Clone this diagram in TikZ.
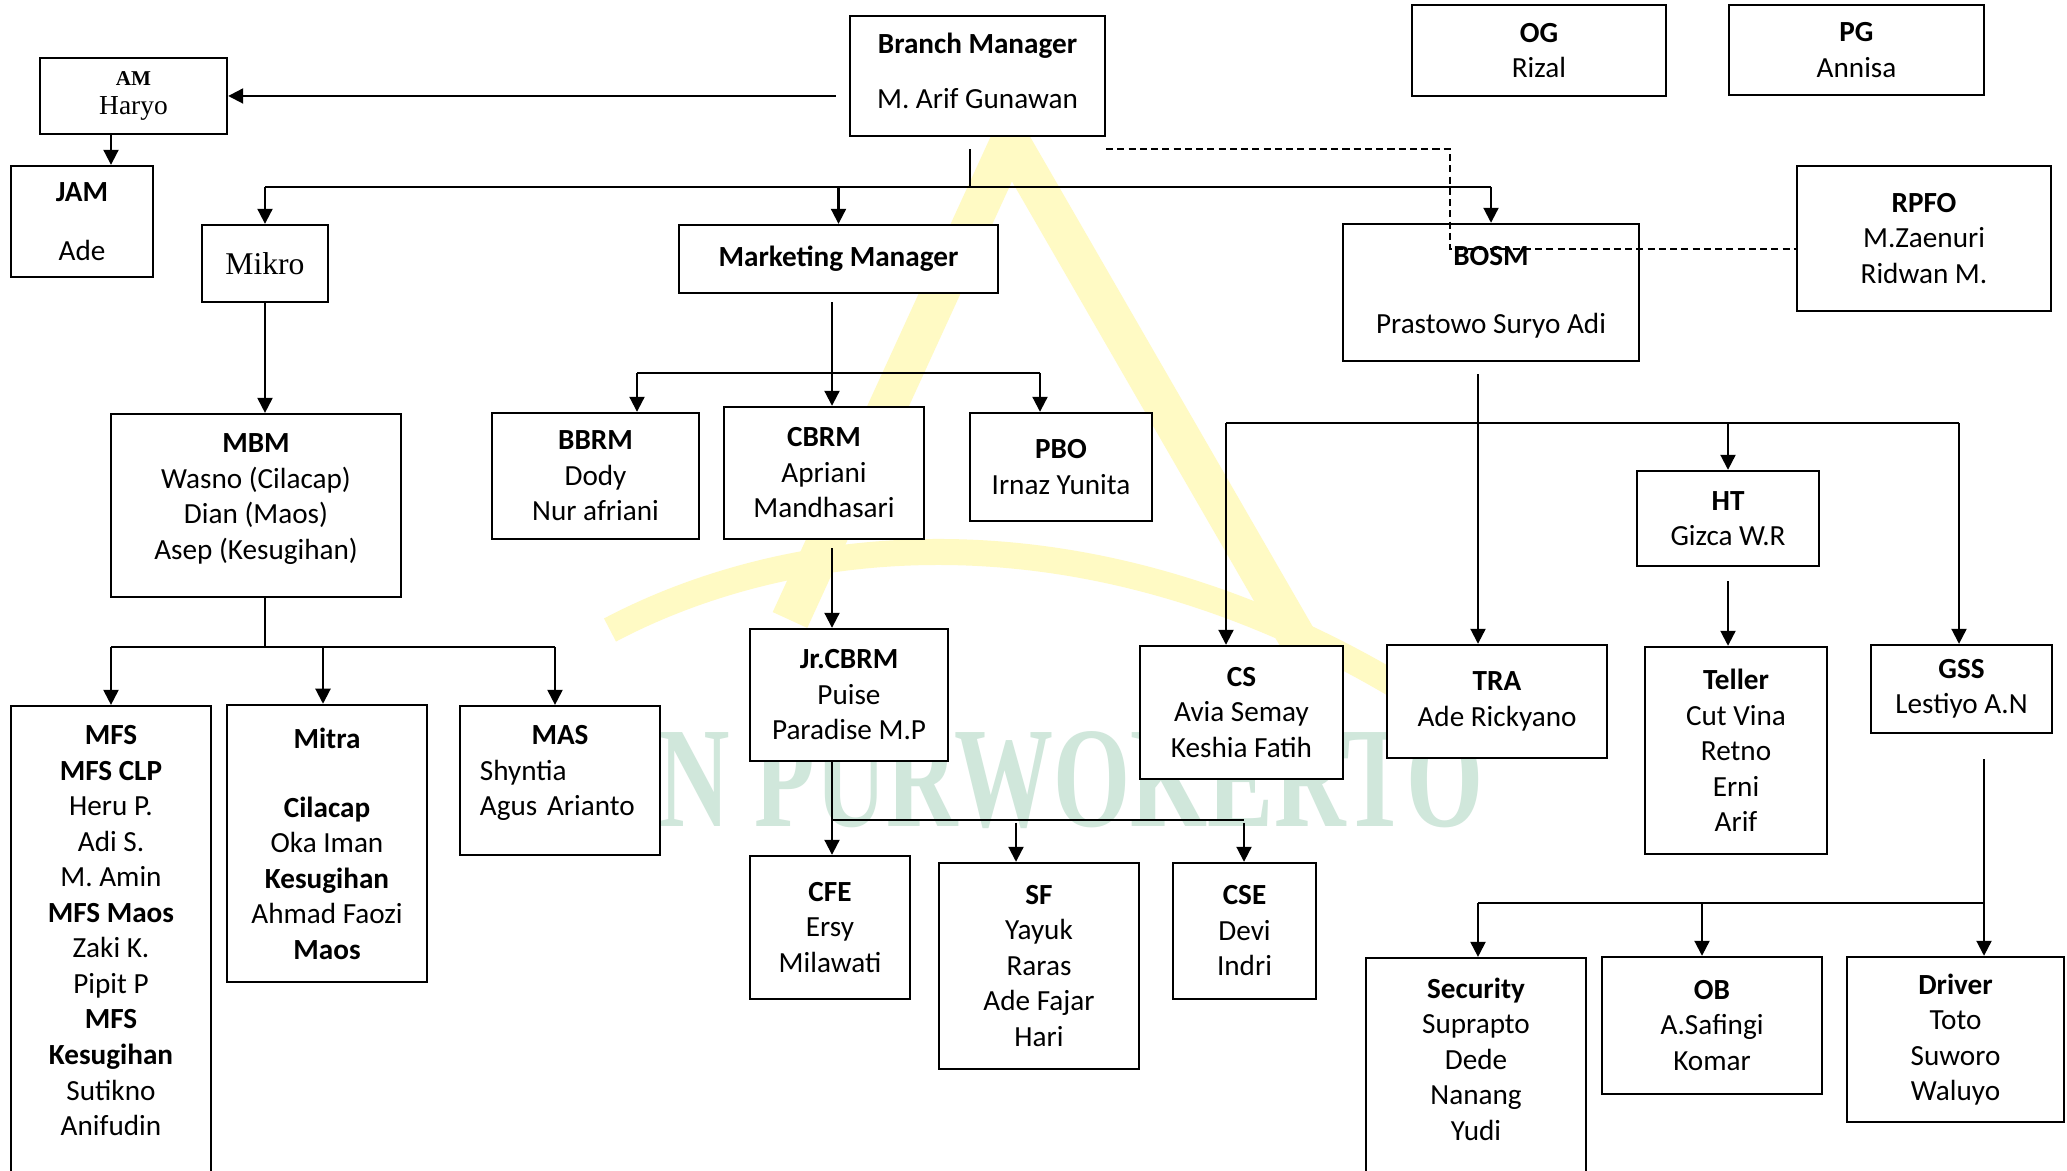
\documentclass[tikz,border=0pt]{standalone}
\usepackage{fontspec}
\setmainfont{Carlito}
\newfontfamily\tnr{Liberation Serif}
\newfontfamily\wmfont[FakeStretch=0.69]{Liberation Serif}
\usetikzlibrary{arrows.meta, calc}
\definecolor{wmyellow}{HTML}{FFFAC4}
\definecolor{wmgreen}{HTML}{D0E7DB}
\newcommand{\orgfont}{\fontsize{8.3}{10.1}\selectfont}

\begin{document}
\begin{tikzpicture}[x=0.01cm, y=-0.01cm,
  orgbox/.style={draw, line width=0.6pt, fill=white, align=center, font=\orgfont, inner sep=1pt},
  serifbox/.style={orgbox, font=\tnr\fontsize{7.8}{8.2}\selectfont},
  toptext/.style={align=center, font=\orgfont, anchor=north, yshift=-0.2cm, inner sep=0pt},
  arr/.style={-{Triangle[length=4.3pt, width=4.2pt]}, line width=0.8pt},
  bus/.style={line width=0.6pt},
  stub/.style={line width=0.45pt},
  dline/.style={dashed, dash pattern=on 2pt off 1.2pt, line width=0.6pt},
]
\useasboundingbox (0,0) rectangle (2067,1171);
\fill[white] (0,0) rectangle (2067,1171);

% watermark
\draw[wmyellow, line width=0.38cm] (790,620) -- (1010,140) -- (1310,660);
\draw[wmyellow, line width=0.26cm] (610,630) .. controls (800,530) and (1100,500) .. (1420,700);
\node[font=\wmfont\bfseries\fontsize{40.8}{41}\selectfont, text=wmgreen, anchor=east, inner sep=0pt] (wmark) at (1484,780) {IAIN PURWOKERTO};

% top level
\node[orgbox, minimum width=2.55cm, minimum height=1.2cm] (bm) at (977.5,76) {\textbf{Branch Manager}\\[5.3pt]M. Arif Gunawan\\[-7.1pt]};
\node[serifbox, minimum width=1.87cm, minimum height=0.76cm] (am) at (133.5,96) {{\fontsize{6}{7}\selectfont\bfseries AM}\\Haryo};
\node[orgbox, minimum width=1.42cm, minimum height=1.11cm] (jam) at (82,221.5) {\textbf{JAM}\\[6.7pt]Ade};
\node[orgbox, minimum width=2.54cm, minimum height=0.91cm] (og) at (1539,50.5) {\textbf{OG}\\Rizal};
\node[orgbox, minimum width=2.55cm, minimum height=0.9cm] (pg) at (1856.5,50) {\textbf{PG}\\Annisa};

% second level
\node[serifbox, font=\tnr\fontsize{9}{10}\selectfont, minimum width=1.26cm, minimum height=0.77cm] (mikro) at (265,263.5) {Mikro};
\node[orgbox, minimum width=3.19cm, minimum height=0.68cm] (mm) at (838.5,259) {\textbf{Marketing Manager}};
\node[orgbox, minimum width=2.96cm, minimum height=1.37cm] (bosm) at (1491,292.5) {\textbf{BOSM}\\[9.3pt]Prastowo Suryo Adi};
\node[orgbox, minimum width=2.54cm, minimum height=1.45cm] (rpfo) at (1924,238.5) {\textbf{RPFO}\\M.Zaenuri\\Ridwan M.};

% third level
\node[orgbox, anchor=north, minimum width=2.9cm, minimum height=1.83cm,
  label={[toptext]north:{\textbf{MBM}\\Wasno (Cilacap)\\Dian (Maos)\\Asep (Kesugihan)}}] (mbm) at (256,413) {};
\node[orgbox, minimum width=2.07cm, minimum height=1.26cm] (bbrm) at (595.5,476) {\textbf{BBRM}\\Dody\\Nur afriani};
\node[orgbox, minimum width=2cm, minimum height=1.32cm] (cbrm) at (824,473) {\textbf{CBRM}\\Apriani\\Mandhasari};
\node[orgbox, minimum width=1.82cm, minimum height=1.08cm] (pbo) at (1061,467) {\textbf{PBO}\\Irnaz Yunita};
\node[orgbox, minimum width=1.82cm, minimum height=0.95cm] (ht) at (1728,518.5) {\textbf{HT}\\Gizca W.R};

% fourth level
\node[orgbox, minimum width=1.98cm, minimum height=1.32cm] (jrcbrm) at (849,695) {\textbf{Jr.CBRM}\\Puise\\Paradise M.P};
\node[orgbox, minimum width=2.03cm, minimum height=1.33cm] (cs) at (1241.5,712.5) {\textbf{CS}\\Avia Semay\\Keshia Fatih};
\node[orgbox, minimum width=2.2cm, minimum height=1.13cm] (tra) at (1497,701.5) {\textbf{TRA}\\Ade Rickyano};
\node[orgbox, minimum width=1.82cm, minimum height=2.07cm] (teller) at (1736,750.5) {\textbf{Teller}\\Cut Vina\\Retno\\Erni\\Arif};
\node[orgbox, minimum width=1.81cm, minimum height=0.88cm] (gss) at (1961.5,689) {\textbf{GSS}\\Lestiyo A.N};

\node[orgbox, anchor=north, minimum width=2cm, minimum height=5cm,
  label={[toptext]north:{\textbf{MFS}\\\textbf{MFS CLP}\\Heru P.\\Adi S.\\M. Amin\\\textbf{MFS Maos}\\Zaki K.\\Pipit P\\\textbf{MFS}\\\textbf{Kesugihan}\\Sutikno\\Anifudin}}] (mfs) at (111,705) {};
\node[orgbox, minimum width=2cm, minimum height=2.77cm] (mitra) at (327,843.5) {\textbf{Mitra}\\[9.5pt]\textbf{Cilacap}\\Oka Iman\\\textbf{Kesugihan}\\Ahmad Faozi\\\textbf{Maos}};
\node[orgbox, anchor=north, minimum width=2cm, minimum height=1.49cm,
  label={[toptext, text width=1.6cm, align=left]north:{\makebox[1.6cm]{\textbf{MAS}}\\Shyntia\\Agus Arianto}}] (mas) at (560,705) {};

% fifth level
\node[orgbox, minimum width=1.6cm, minimum height=1.43cm] (cfe) at (830,927.5) {\textbf{CFE}\\Ersy\\Milawati};
\node[orgbox, minimum width=2cm, minimum height=2.06cm] (sf) at (1039,966) {\textbf{SF}\\Yayuk\\Raras\\Ade Fajar\\Hari};
\node[orgbox, minimum width=1.43cm, minimum height=1.36cm] (cse) at (1244.5,931) {\textbf{CSE}\\Devi\\Indri};
\node[orgbox, anchor=north, minimum width=2.2cm, minimum height=2.6cm,
  label={[toptext]north:{\textbf{Security}\\Suprapto\\Dede\\Nanang\\Yudi}}] (security) at (1476,957) {};
\node[orgbox, minimum width=2.2cm, minimum height=1.37cm] (ob) at (1712,1025.5) {\textbf{OB}\\A.Safingi\\Komar};
\node[orgbox, minimum width=2.17cm, minimum height=1.65cm] (driver) at (1955.5,1039.5) {\textbf{Driver}\\Toto\\Suworo\\Waluyo};

% bus points
\coordinate (bmbus) at (970,187);
\coordinate (dk) at (1450,249);
\coordinate (mmbus) at (832,373);
\coordinate (mmbl) at (637,373);
\coordinate (mmbr) at (1040,373);
\coordinate (jrbl) at (832,820);
\coordinate (jrbm) at (1016,820);
\coordinate (jrbr) at (1244,820);
\coordinate (mbmbus) at (265,647);
\coordinate (mbml) at (111,647);
\coordinate (mbmm) at (323,647);
\coordinate (mbmr) at (555,647);
\coordinate (bsv) at (1478,423);
\coordinate (bsl) at (1226,423);
\coordinate (bsm) at (1728,423);
\coordinate (bsr) at (1959,423);
\coordinate (gsv) at (1984,903);
\coordinate (gsl) at (1478,903);
\coordinate (gsm) at (1702,903);

% branch manager
\draw[arr] ($(am.east -| bm.west)+(-13,0)$) -- (am.east);
\draw[arr] ($(am.south)+(-22.5,0)$) -- ($(am.south |- jam.north)+(-22.5,0)$);
\draw[stub] (bmbus |- bm.south) ++(0,12) -- (bmbus);
\draw[bus] (mikro |- bmbus) -- (bosm |- bmbus);
\foreach \n in {mikro, mm, bosm}
  \draw[arr] (\n |- bmbus) -- (\n.north);

% mikro
\draw[arr] (mikro.south) -- (mikro.south |- mbm.north);
\draw[stub] (mbmbus |- mbm.south) -- (mbmbus);
\draw[bus] (mbml) -- (mbmr);
\foreach \c/\n in {mbml/mfs, mbmm/mitra, mbmr/mas}
  \draw[arr] (\c) -- (\c |- \n.north);

% marketing
\draw[arr] ($(mmbus |- mm.south)+(0,8)$) -- (mmbus |- cbrm.north);
\draw[bus] (mmbl) -- (mmbr);
\draw[arr] (mmbl) -- (mmbl |- bbrm.north);
\draw[arr] (mmbr) -- (mmbr |- pbo.north);
\draw[arr] ($(mmbus |- cbrm.south)+(0,8)$) -- (mmbus |- jrcbrm.north);
\draw[arr] (jrbl |- jrcbrm.south) -- (jrbl |- cfe.north);
\draw[bus] (jrbl) -- (jrbr);
\draw[arr] ($(jrbm)+(0,3)$) -- (jrbm |- sf.north);
\draw[arr] ($(jrbr)+(0,3)$) -- (jrbr |- cse.north);

% operations
\draw[arr] ($(bsv |- bosm.south)+(0,12)$) -- (bsv |- tra.north);
\draw[bus] (bsl) -- (bsr);
\draw[arr] (bsl) -- (bsl |- cs.north);
\draw[arr] (bsm) -- (ht.north);
\draw[arr] (bsr) -- (bsr |- gss.north);
\draw[arr] ($(ht.south)+(0,14)$) -- (ht.south |- teller.north);
\draw[arr] ($(gsv |- gss.south)+(0,25)$) -- (gsv |- driver.north);
\draw[bus] (gsl) -- (gsv);
\draw[arr] (gsl) -- (gsl |- security.north);
\draw[arr] (gsm) -- (gsm |- ob.north);

% dashed line to RPFO
\draw[dline] ($(bm.south east)+(0,12)$) -| (dk) -- (dk -| rpfo.west);

\end{tikzpicture}
\end{document}
